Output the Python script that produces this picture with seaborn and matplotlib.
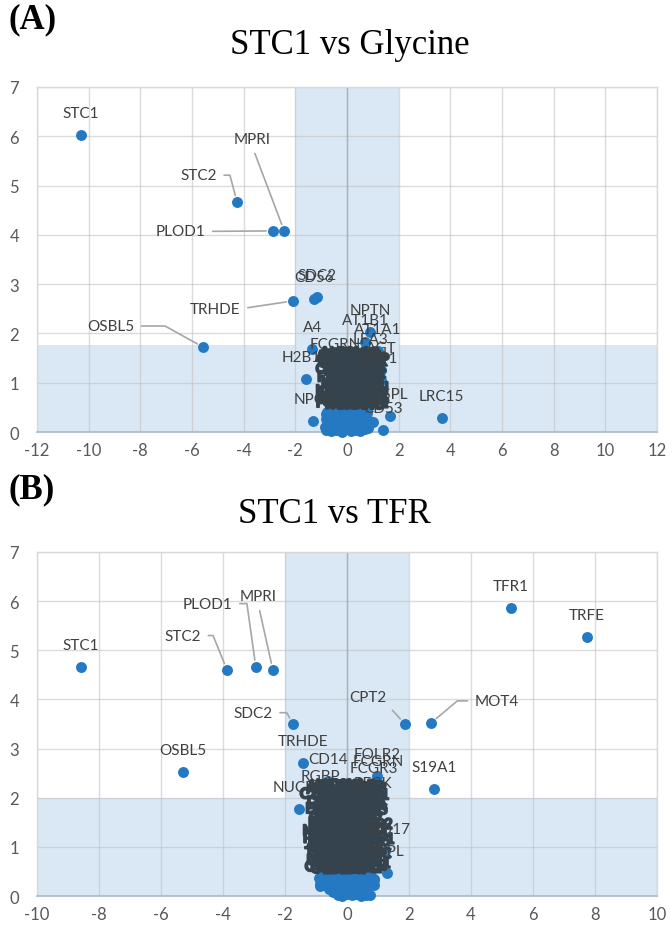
import numpy as np
import pandas as pd
import matplotlib
matplotlib.use("Agg")
import matplotlib.pyplot as plt
import matplotlib.patheffects as pe
import seaborn as sns

sns.set_style("white")
plt.rcParams["font.family"] = ["Lato", "DejaVu Sans"]
plt.rcParams["axes.unicode_minus"] = False

# ---------------- data ----------------
cluster_names = [
    "ACTB", "ALDOA", "ANXA1", "ANXA2", "ANXA5", "APOE", "B2MG", "BGH3", "C1QBP", "CALR",
    "CATB", "CATD", "CATZ", "CD44", "CD59", "CD63", "CD81", "CLUS", "CO3", "COF1",
    "CSPG2", "CYTC", "DAG1", "DKK3", "ENOA", "ENPL", "EZRI", "FBLN1", "FBN1", "FINC",
    "FSTL1", "G3P", "GDN", "GELS", "GRN", "GSTP1", "HSP7C", "HSPB1", "IBP2", "IBP3",
    "IBP4", "IBP7", "ITB1", "KPYM", "LAMB1", "LAMC1", "LDHA", "LEG1", "LEG3", "LGMN",
    "LTBP2", "MDHC", "MIF", "MMP2", "MOES", "NID1", "NID2", "NUCB1", "PDIA1", "PDIA3",
    "PEBP1", "PGK1", "PGS1", "PPIA", "PPIB", "PRDX1", "PRDX6", "PROF1", "PTX3", "QSOX1",
    "SERPH", "SODC", "SPARC", "SPON2", "SPRL1", "TAGL", "TBB5", "TCPG", "TENA", "TIMP1",
    "TIMP2", "TKT", "TPIS", "TSP1", "TXNC", "UBIQ", "VIME", "WNT5A", "1433Z", "ACTN4",
    "AGRIN", "AMPN", "CO1A1", "CO1A2", "CO5A1", "CO6A1", "EFEMP", "FBLN2", "HTRA1", "LOXL2",
]

# Panel A: STC1 vs Glycine
clusterA_x = [-0.35, -0.22, -0.09, 0.04, 0.17, 0.30, 0.43, 0.56, 0.70, 0.84,
              -0.38, -0.25, -0.12, 0.01, 0.14, 0.27, 0.40, 0.53, 0.66, 0.80,
              -0.33, -0.20, -0.07, 0.06, 0.19, 0.32, 0.45, 0.58, 0.71, 0.85,
              -0.36, -0.23, -0.10, 0.03, 0.16, 0.29, 0.42, 0.55, 0.68, 0.82,
              -0.40, -0.27, -0.14, -0.01, 0.12, 0.25, 0.38, 0.51, 0.64, 0.78,
              -0.38, -0.24, -0.10, 0.04, 0.18, 0.32, 0.46, 0.60, 0.74,
              -0.34, -0.19, -0.04, 0.11, 0.26, 0.41, 0.56, 0.70,
              -0.30, -0.14, 0.02, 0.18, 0.34, 0.50, 0.66]
clusterA_y = [1.12, 1.08, 1.15, 1.10, 1.13, 1.06, 1.14, 1.09, 1.02, 0.98,
              0.95, 0.99, 0.92, 0.97, 0.90, 0.98, 0.93, 0.96, 0.89, 0.86,
              0.82, 0.78, 0.84, 0.80, 0.77, 0.83, 0.79, 0.81, 0.76, 0.72,
              0.66, 0.63, 0.69, 0.64, 0.67, 0.62, 0.68, 0.63, 0.60, 0.58,
              0.52, 0.48, 0.54, 0.49, 0.53, 0.47, 0.51, 0.46, 0.50, 0.44,
              0.38, 0.35, 0.40, 0.36, 0.39, 0.34, 0.37, 0.33, 0.30,
              0.25, 0.22, 0.27, 0.23, 0.26, 0.21, 0.24, 0.20,
              0.14, 0.11, 0.15, 0.12, 0.14, 0.10, 0.13]
lowA_x = [-0.80, -0.62, -0.41, -0.20, -0.02, 0.16, 0.34, 0.52, 0.69, 0.82, -0.74, 0.80, -0.70, 1.00,
          -0.85, -0.68, -0.52, -0.35, -0.17, 0.06, 0.24, 0.43, 0.60, 0.76,
          -0.83, -0.66, -0.45, -0.24, -0.03, 0.19, 0.41, 0.62, 0.80,
          -0.78, -0.60, 0.58, 0.77, -0.82]
lowA_y = [0.05, 0.02, 0.04, 0.01, 0.06, 0.02, 0.05, 0.03, 0.06, 0.08, 0.18, 0.17, 0.32, 0.20,
          0.10, 0.09, 0.07, 0.08, 0.11, 0.09, 0.10, 0.08, 0.11, 0.12,
          0.26, 0.28, 0.30, 0.31, 0.29, 0.30, 0.28, 0.27, 0.25,
          0.40, 0.42, 0.41, 0.38, 0.36]

# named points shown with a label right above them
namedA = ["STC1", "SDC2", "CD56", "LRC15", "A4", "H2B1C", "FCGRN", "NPTN", "AT1B1",
          "AT1A1", "LFA3", "AGT", "LRP1", "NPC2", "GSPL", "CD53"]
namedA_x = [-10.3, -1.16, -1.27, 3.67, -1.35, -1.58, -0.45, 0.89, 0.70,
            1.20, 0.90, 1.32, 1.30, -1.31, 1.66, 1.39]
namedA_y = [6.02, 2.74, 2.70, 0.28, 1.68, 1.07, 1.34, 2.03, 1.83,
            1.65, 1.45, 1.25, 1.05, 0.22, 0.32, 0.04]

# named points with a leader line: point position, label position
leadA = ["STC2", "MPRI", "PLOD1", "TRHDE", "OSBL5"]
leadA_x = [-4.25, -2.43, -2.86, -2.08, -5.56]
leadA_y = [4.66, 4.08, 4.08, 2.66, 1.72]
leadA_lx = [-5.75, -3.67, -6.45, -5.10, -9.15]
leadA_ly = [5.21, 5.94, 4.07, 2.50, 2.15]

# Panel B: STC1 vs TFR
clusterB_x = [-0.68, -0.48, -0.29, -0.10, 0.09, 0.28, 0.46, 0.64,
              -0.74, -0.55, -0.36, -0.17, 0.03, 0.22, 0.41, 0.60, 0.76,
              -0.70, -0.52, -0.33, -0.14, 0.06, 0.25, 0.44, 0.62,
              -0.76, -0.57, -0.38, -0.19, 0.00, 0.19, 0.38, 0.57, 0.75,
              -0.69, -0.50, -0.31, -0.12, 0.07, 0.26, 0.45, 0.64,
              -0.75, -0.56, -0.37, -0.18, 0.02, 0.21, 0.40, 0.59, 0.77,
              -0.70, -0.51, -0.31, -0.11, 0.09, 0.28, 0.47, 0.65,
              -0.73, -0.54, -0.35, -0.16, 0.04, 0.23, 0.42, 0.61, 0.78,
              -0.68, -0.49, -0.29, -0.10, 0.10, 0.29, 0.48, 0.67,
              -0.77, -0.58, -0.38, -0.19, 0.01, 0.20, 0.39, 0.58, 0.79,
              -0.72, -0.53, -0.34, -0.15, 0.05, 0.24, 0.43, 0.63,
              -0.58, -0.39, -0.20, -0.01, 0.18, 0.36, 0.54]
clusterB_y = [1.78, 1.72, 1.80, 1.74, 1.79, 1.71, 1.77, 1.73,
              1.62, 1.58, 1.64, 1.57, 1.61, 1.59, 1.63, 1.56, 1.60,
              1.47, 1.43, 1.49, 1.42, 1.46, 1.44, 1.48, 1.41,
              1.32, 1.28, 1.33, 1.27, 1.31, 1.29, 1.34, 1.26, 1.30,
              1.17, 1.13, 1.18, 1.12, 1.16, 1.14, 1.19, 1.11,
              1.02, 0.98, 1.03, 0.97, 1.01, 0.99, 1.04, 0.96, 1.00,
              0.87, 0.83, 0.88, 0.82, 0.86, 0.84, 0.89, 0.81,
              0.72, 0.68, 0.73, 0.67, 0.71, 0.69, 0.74, 0.66, 0.70,
              0.57, 0.53, 0.58, 0.52, 0.56, 0.54, 0.59, 0.51,
              0.42, 0.38, 0.43, 0.37, 0.41, 0.39, 0.44, 0.36, 0.40,
              0.27, 0.23, 0.28, 0.22, 0.26, 0.24, 0.29, 0.21,
              0.14, 0.10, 0.15, 0.09, 0.13, 0.11, 0.16]
lowB_x = [-0.30, -0.15, 0.00, 0.15, 0.30, 0.45, 0.60, 0.75, -0.85, -0.88, 0.88, 0.85, -0.60, 0.70,
          -0.90, -0.72, -0.55, -0.38, -0.20, -0.02, 0.16, 0.34, 0.52, 0.70, 0.88,
          -0.86, -0.68, -0.50, -0.30, -0.10, 0.10, 0.30, 0.50, 0.68, 0.86,
          -0.45, -0.25, 0.12, 0.55]
lowB_y = [0.03, 0.01, 0.04, 0.02, 0.05, 0.01, 0.03, 0.02, 0.30, 0.20, 0.35, 0.25, 0.20, 0.25,
          0.36, 0.34, 0.37, 0.35, 0.38, 0.36, 0.34, 0.37, 0.35, 0.38, 0.33,
          0.24, 0.22, 0.20, 0.18, 0.21, 0.19, 0.22, 0.18, 0.20, 0.23,
          0.08, 0.06, 0.07, 0.09]

namedB = ["STC1", "OSBL5", "TFR1", "TRFE", "S19A1", "TRHDE", "CD14", "FOLR2", "FCGRN",
          "FCGR3", "RGBP", "NUCB2", "RECK", "ASPL", "CAD17"]
namedB_x = [-8.58, -5.29, 5.29, 7.74, 2.81, -1.42, -0.60, 0.97, 1.00,
            0.88, -0.87, -1.55, 0.84, 1.29, 1.23]
namedB_y = [4.66, 2.53, 5.86, 5.27, 2.18, 2.71, 2.34, 2.44, 2.30,
            2.15, 2.00, 1.78, 1.85, 0.47, 0.92]

leadB = ["STC2", "PLOD1", "MPRI", "SDC2", "CPT2", "MOT4"]
leadB_x = [-3.87, -2.94, -2.39, -1.74, 1.87, 2.71]
leadB_y = [4.60, 4.66, 4.60, 3.50, 3.50, 3.52]
leadB_lx = [-5.30, -4.50, -2.87, -3.03, 0.68, 4.84]
leadB_ly = [5.30, 5.95, 6.10, 3.73, 4.05, 3.97]

# ---------------- style ----------------
POINT = "#2479C2"
BAND = "#DAE8F5"
LABEL = "#404040"
CLUSTER_LABEL = "#34434D"
LEADER = "#A6A6A6"
TICK = "#595959"

fig = plt.figure(figsize=(6.72, 9.28), dpi=100)
axA = fig.add_axes([0.055, 0.5334, 0.9226, 0.3718])
axB = fig.add_axes([0.055, 0.0334, 0.9226, 0.3707])


def draw(ax, xlim, xstep, ythr, cx, cy, lx_, ly_, nm, nx, ny, ld, ldx, ldy, ldlx, ldly, leader_styles):
    ax.set_xlim(*xlim)
    ax.set_ylim(0, 7)
    ax.axvspan(-2, 2, color=BAND, lw=0, zorder=0)
    ax.axhspan(0, ythr, color=BAND, lw=0, zorder=0)
    ax.set_xticks(np.arange(xlim[0], xlim[1] + 1, xstep))
    ax.set_yticks(np.arange(0, 8, 1))
    ax.grid(True, color="#BFBFBF", alpha=0.55, lw=1.0, zorder=0.5)
    ax.set_axisbelow(True)
    for s in ["left", "right", "top"]:
        ax.spines[s].set_color("#D9D9D9")
        ax.spines[s].set_linewidth(1.0)
    ax.spines["bottom"].set_color("#A9BACB")
    ax.spines["bottom"].set_linewidth(1.2)
    ax.axvline(0, color="#A5B2BF", lw=1.0, zorder=0.6)
    ax.tick_params(length=0, labelcolor=TICK, labelsize=12)
    ax.tick_params(axis="x", pad=7)
    ax.tick_params(axis="y", pad=13)

    df = pd.DataFrame({
        "x": list(lx_) + list(cx) + list(nx) + list(ldx),
        "y": list(ly_) + list(cy) + list(ny) + list(ldy),
    })
    sns.scatterplot(data=df, x="x", y="y", color=POINT, s=62, linewidth=0,
                    ax=ax, zorder=3, clip_on=False)
    ax.set_xlabel("")
    ax.set_ylabel("")

    stroke = [pe.withStroke(linewidth=1.4, foreground=CLUSTER_LABEL)]
    for name, x, y in zip(cluster_names, cx, cy):
        ax.annotate(name, (x, y), xytext=(0, 22), textcoords="offset pixels",
                    ha="center", va="center", fontsize=10.5, fontweight="bold",
                    color=CLUSTER_LABEL, zorder=4, path_effects=stroke)
    for name, x, y in zip(nm, nx, ny):
        ax.annotate(name, (x, y), xytext=(0, 22), textcoords="offset pixels",
                    ha="center", va="center", fontsize=11, color=LABEL, zorder=4)
    for name, x, y, tx, ty, (cs, rp) in zip(ld, ldx, ldy, ldlx, ldly, leader_styles):
        ax.annotate(name, (x, y), xytext=(tx, ty), textcoords="data",
                    ha="center", va="center", fontsize=11, color=LABEL, zorder=4,
                    arrowprops=dict(arrowstyle="-", color=LEADER, lw=1.2,
                                    shrinkA=3, shrinkB=5, connectionstyle=cs, relpos=rp))


leaderA = [("angle,angleA=0,angleB=105,rad=0", (1.0, 0.5)),
           ("arc3,rad=0", (0.5, 0.0)),
           ("arc3,rad=0", (1.0, 0.5)),
           ("arc3,rad=0", (1.0, 0.5)),
           ("angle,angleA=0,angleB=151,rad=0", (1.0, 0.5))]
leaderB = [("angle,angleA=0,angleB=112,rad=0", (1.0, 0.5)),
           ("angle,angleA=0,angleB=98,rad=0", (1.0, 0.5)),
           ("arc3,rad=0", (0.5, 0.0)),
           ("angle,angleA=0,angleB=119,rad=0", (1.0, 0.5)),
           ("arc3,rad=0", (1.0, 0.0)),
           ("angle,angleA=0,angleB=40,rad=0", (0.0, 0.5))]

draw(axA, (-12, 12), 2, 1.76, clusterA_x, clusterA_y, lowA_x, lowA_y,
     namedA, namedA_x, namedA_y, leadA, leadA_x, leadA_y, leadA_lx, leadA_ly, leaderA)
draw(axB, (-10, 10), 2, 2.0, clusterB_x, clusterB_y, lowB_x, lowB_y,
     namedB, namedB_x, namedB_y, leadB, leadB_x, leadB_y, leadB_lx, leadB_ly, leaderB)

serif = ["Liberation Serif", "DejaVu Serif"]
fig.text(350 / 672, 1 - 45 / 928, "STC1 vs Glycine", family=serif, fontsize=25,
         ha="center", va="center", color="black")
fig.text(8 / 672, 1 - 20 / 928, "(A)", family=serif, fontsize=25, fontweight="bold",
         ha="left", va="center", color="black")
fig.text(334 / 672, 1 - 515 / 928, "STC1 vs TFR", family=serif, fontsize=25,
         ha="center", va="center", color="black")
fig.text(8 / 672, 1 - 490 / 928, "(B)", family=serif, fontsize=25, fontweight="bold",
         ha="left", va="center", color="black")

fig.savefig("out.png", dpi=100)
